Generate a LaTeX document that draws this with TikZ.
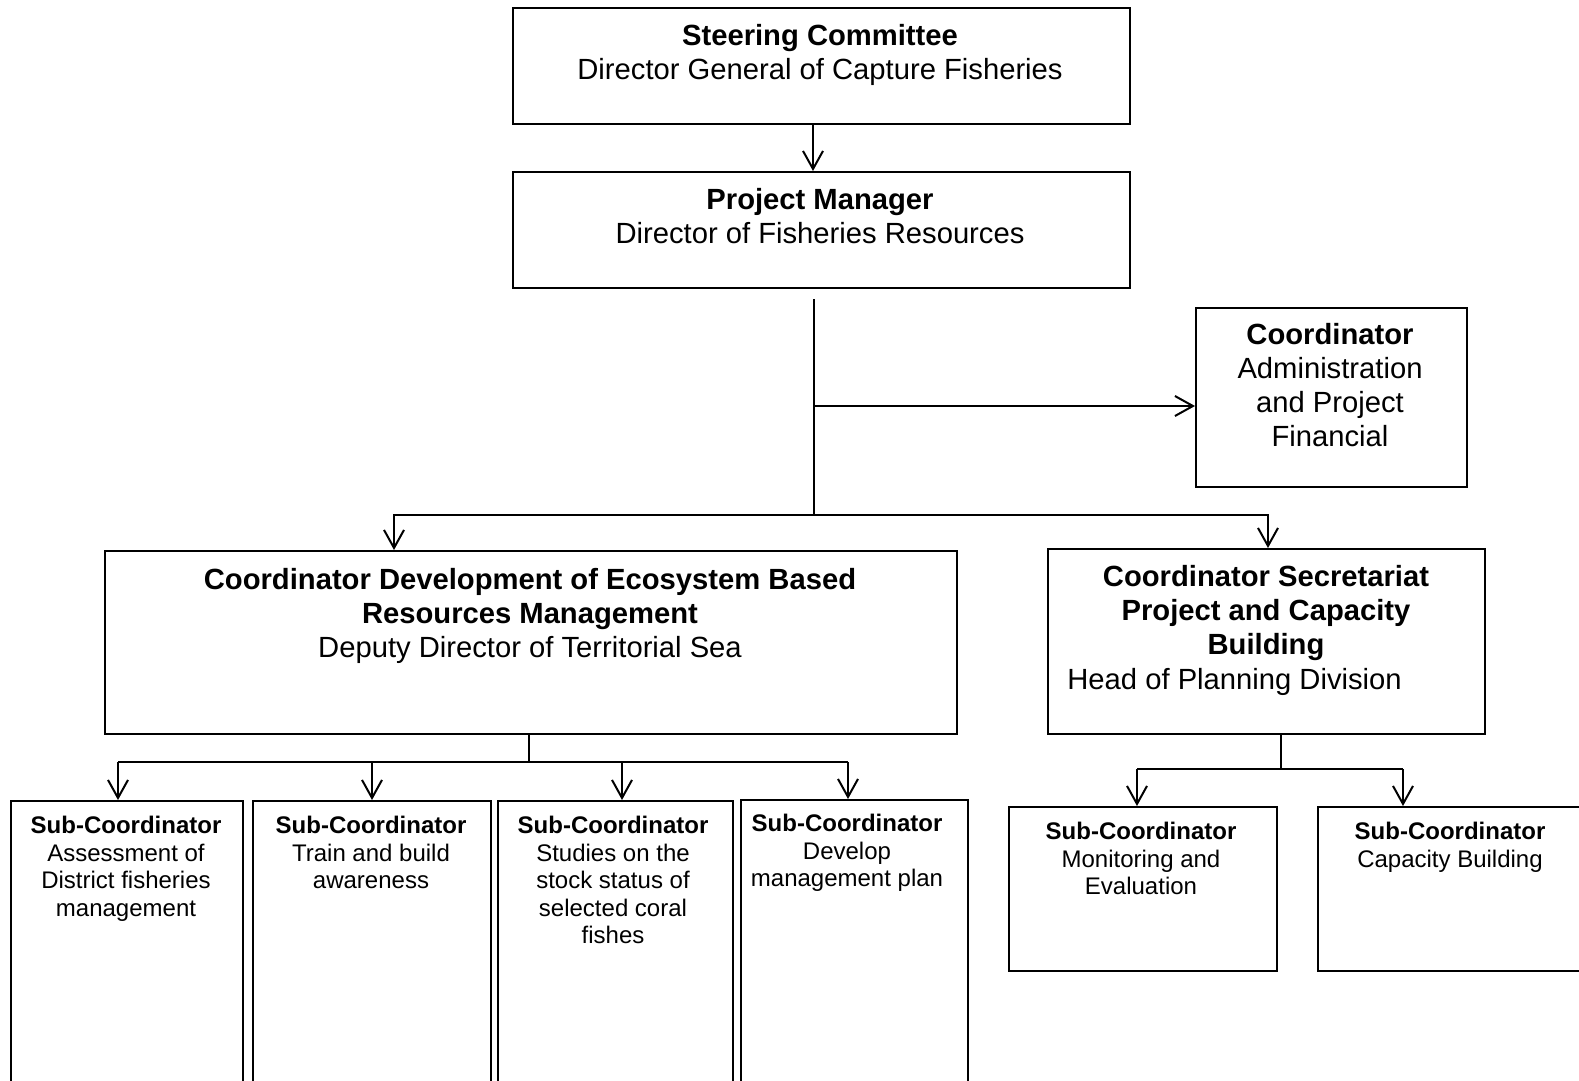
\documentclass[tikz,border=0pt]{standalone}
\usepackage{fontspec}
\setmainfont{Liberation Sans}
\usetikzlibrary{arrows.meta}
\tikzset{
  orgbox/.style={draw,line width=1pt,anchor=north west,inner sep=0pt},
  headtxt/.style={anchor=north,align=center,inner sep=0pt,font=\fontsize{14.6}{17}\selectfont},
  subtxt/.style={anchor=north,align=center,inner sep=0pt,font=\fontsize{12}{13.7}\selectfont},
  orgline/.style={line width=1pt},
  orgarrow/.style={line width=1pt,-{Straight Barb[length=9pt,width=10pt]}}
}

\begin{document}
\begin{tikzpicture}[x=0.5pt,y=-0.5pt]
\path[use as bounding box] (0,0) rectangle (1579,1081);
\node[orgbox,minimum width=308.5pt,minimum height=58pt] (sc) at (512,7) {};
\node[headtxt] (sctext) at (820,24) {\textbf{Steering Committee}\\Director General of Capture Fisheries};
\node[orgbox,minimum width=308.5pt,minimum height=58pt] (pm) at (512,171) {};
\node[headtxt] (pmtext) at (820,188) {\textbf{Project Manager}\\Director of Fisheries Resources};
\node[orgbox,minimum width=135.5pt,minimum height=89.5pt] (co) at (1195,307) {};
\node[headtxt] (cotext) at (1330,323) {\textbf{Coordinator}\\Administration\\and Project\\Financial};
\node[orgbox,minimum width=426pt,minimum height=91.5pt] (cd) at (104,550) {};
\node[headtxt] (cdtext) at (530,568) {\textbf{Coordinator Development of Ecosystem Based}\\\textbf{Resources Management}\\Deputy Director of Territorial Sea};
\node[orgbox,minimum width=218.5pt,minimum height=92.5pt] (cs) at (1047,548) {};
\node[headtxt] (cstext) at (1266,565) {\textbf{Coordinator Secretariat}\\\textbf{Project and Capacity}\\\textbf{Building}};
\node[anchor=base west,inner sep=0pt,font=\fontsize{14.6}{17}\selectfont] (cshead) at (1067,689) {Head of Planning Division};
\node[orgbox,minimum width=116pt,minimum height=140.5pt] (s1) at (10,800) {};
\node[subtxt] (s1text) at (126,816) {\textbf{Sub-Coordinator}\\Assessment of\\District fisheries\\management};
\node[orgbox,minimum width=119pt,minimum height=140.5pt] (s2) at (252,800) {};
\node[subtxt] (s2text) at (371,816) {\textbf{Sub-Coordinator}\\Train and build\\awareness};
\node[orgbox,minimum width=117.5pt,minimum height=140.5pt] (s3) at (497,800) {};
\node[subtxt] (s3text) at (613,816) {\textbf{Sub-Coordinator}\\Studies on the\\stock status of\\selected coral\\fishes};
\node[orgbox,minimum width=113.5pt,minimum height=141pt] (s4) at (740,799) {};
\node[subtxt] (s4text) at (847,814) {\textbf{Sub-Coordinator}\\Develop\\management plan};
\node[orgbox,minimum width=134pt,minimum height=82pt] (me) at (1008,806) {};
\node[subtxt] (metext) at (1141,822) {\textbf{Sub-Coordinator}\\Monitoring and\\Evaluation};
\node[orgbox,minimum width=134pt,minimum height=82pt] (cb) at (1317,806) {};
\node[subtxt] (cbtext) at (1450,822) {\textbf{Sub-Coordinator}\\Capacity Building};
\draw[orgarrow] (sc.south -| 813,0) -- (pm.north -| 813,0);
\coordinate (trunk) at (814,299);
\coordinate (tee) at (814,406);
\coordinate (fork) at (814,515);
\draw[orgline] (trunk) -- (fork);
\draw[orgarrow] (tee) -- (tee -| co.west);
\draw[orgarrow] (fork) -| (cd.north -| 394,0);
\draw[orgarrow] (fork) -| (cs.north -| 1268,0);
\coordinate (lbar) at (529,762);
\draw[orgline] (cd.south -| lbar) -- (lbar);
\draw[orgline] (lbar -| 118,0) -- (lbar -| 848,0);
\foreach \x/\sub in {118/s1,372/s2,622/s3,848/s4}
  \draw[orgarrow] (lbar -| \x,0) -- (\sub.north -| \x,0);
\coordinate (rbar) at (1281,769);
\draw[orgline] (cs.south -| rbar) -- (rbar);
\draw[orgline] (rbar -| 1137,0) -- (rbar -| 1403,0);
\draw[orgarrow] (rbar -| 1137,0) -- (me.north -| 1137,0);
\draw[orgarrow] (rbar -| 1403,0) -- (cb.north -| 1403,0);
\end{tikzpicture}
\end{document}
